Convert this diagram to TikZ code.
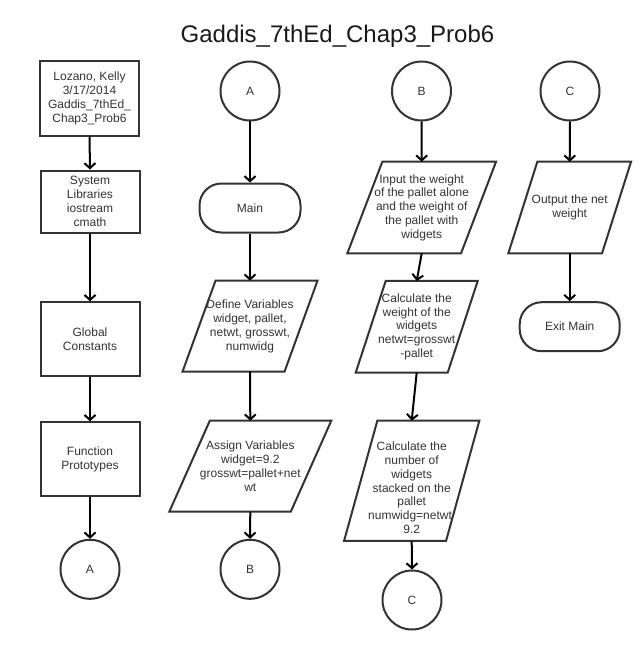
\documentclass[tikz,border=0pt]{standalone}
\usepackage{fontspec}
\setmainfont{Liberation Sans}
\usetikzlibrary{arrows.meta}
\definecolor{ink}{HTML}{333333}
\newcommand\drawpara[2]{\draw[shp] ([xshift=#2]#1.north west) -- (#1.north east) -- ([xshift=-#2]#1.south east) -- (#1.south west) -- cycle;}
\begin{document}
\begin{tikzpicture}[x=1pt,y=-1pt,
  every node/.style={font=\fontsize{12}{13.8}\selectfont, text=ink, align=center},
  shp/.style={draw=ink, line width=2pt},
  procbox/.style={shp, rectangle, inner sep=0pt},
  conn/.style={shp, circle, minimum size=59pt, inner sep=0pt},
  term/.style={shp, rectangle, rounded corners=22pt, inner sep=0pt},
  iobox/.style={rectangle, inner sep=0pt, outer sep=1pt},
  flow/.style={line width=2pt, black, -{Straight Barb[length=5pt,width=11pt]}}
]
\fill[white] (0,0) rectangle (640,650);
\useasboundingbox (0,0) rectangle (640,650);

\node[font=\fontsize{24}{28}\selectfont, text=black!90, anchor=base] (title) at (337.5,43) {Gaddis\_7thEd\_Chap3\_Prob6};

% column 1
\node[procbox, minimum width=99pt, minimum height=74pt] (b1) at (89.5,98.5) {Lozano, Kelly\\3/17/2014\\Gaddis\_7thEd\_\\Chap3\_Prob6};
\node[procbox, minimum width=99pt, minimum height=62pt] (b2) at (90,201.5) {System\\Libraries\\iostream\\cmath};
\node[procbox, minimum width=99pt, minimum height=74pt] (b3) at (90,339.3) {Global\\Constants};
\node[procbox, minimum width=99pt, minimum height=74pt] (b4) at (90,459.3) {Function\\Prototypes};
\node[conn] (ca1) at (90,569.3) {A};

% column 2
\node[conn] (ca2) at (250,91) {A};
\node[term, minimum width=101pt, minimum height=49pt] (main) at (250,208) {Main};
\node[iobox, minimum width=133pt, minimum height=89pt] (def) at (250,326.2) {Define Variables\\widget, pallet,\\netwt, grosswt,\\numwidg};
\drawpara{def}{33pt}
\node[iobox, minimum width=160pt, minimum height=89pt] (asg) at (250.3,466.2) {Assign Variables\\widget=9.2\\grosswt=pallet+net\\wt};
\drawpara{asg}{40.5pt}
\node[conn] (cb1) at (250,569.3) {B};

% column 3
\node[conn] (cb2) at (421.5,91) {B};
\node[iobox, minimum width=146.7pt, minimum height=89.6pt] (inp) at (421.7,207.5) {Input the weight\\of the pallet alone\\and the weight of\\the pallet with\\widgets};
\drawpara{inp}{35pt}
\node[iobox, minimum width=120pt, minimum height=89.7pt] (cw) at (416.7,326.8) {Calculate the\\weight of the\\widgets\\netwt=grosswt\\-pallet};
\drawpara{cw}{30pt}
\node[iobox, minimum width=133.3pt, minimum height=118.3pt] (cn) at (411.7,480.8) {};
\drawpara{cn}{33.3pt}
\node (cntext) at ([yshift=-7pt]cn.center) {Calculate the\\number of\\widgets\\stacked on the\\pallet\\numwidg=netwt/\\9.2};
\node[conn] (cc1) at (412,600) {C};

% column 4
\node[conn] (cc2) at (570,91) {C};
\node[iobox, minimum width=120.7pt, minimum height=89.6pt] (out) at (569.7,207.5) {Output the net\\weight};
\drawpara{out}{29pt}
\node[term, minimum width=100pt, minimum height=49pt] (exit) at (569.7,326.7) {Exit Main};

% connectors
\draw[flow] (b1.south) -- (b2.north);
\draw[flow] (b2.south) -- (b3.north);
\draw[flow] (b3.south) -- (b4.north);
\draw[flow] (b4.south) -- (ca1.north);
\draw[flow] (ca2.south) -- (main.north);
\draw[flow] (main.south) -- (def.north);
\draw[flow] (def.south) -- (asg.north);
\draw[flow] (asg.south) -- (cb1.north);
\draw[flow] (cb2.south) -- (inp.north);
\draw[flow] (inp.south) -- (cw.north);
\draw[flow] (cw.south) -- (cn.north);
\draw[flow] (cn.south) -- (cc1.north);
\draw[flow] (cc2.south) -- (out.north);
\draw[flow] (out.south) -- (exit.north);
\end{tikzpicture}
\end{document}
